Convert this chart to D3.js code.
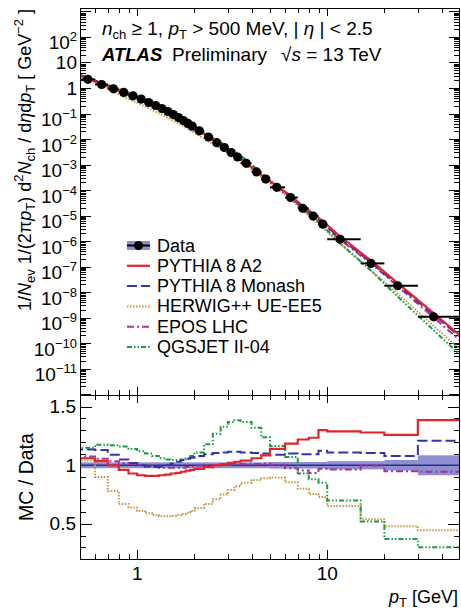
<!DOCTYPE html>
<html>
<head>
<meta charset="utf-8">
<script src="https://cdn.jsdelivr.net/npm/d3@7"></script>
<style>
  body { margin: 0; background: #fff; }
  svg { font-family: 'Liberation Sans', Arial, Helvetica, sans-serif; }
  .tick line { shape-rendering: crispEdges; }
</style>
</head>
<body>
<svg id="chart" width="461" height="613"></svg>
<script>
// pT binning [GeV] and measured spectrum
const ptEdges = [0.5, 0.6, 0.7, 0.8, 0.9, 1.0, 1.1, 1.2, 1.3, 1.4, 1.5, 1.6, 1.7, 1.8, 1.9, 2.0,
  2.25, 2.5, 2.75, 3.0, 3.25, 3.5, 4.0, 4.5, 5, 6, 7, 8, 9, 10, 15, 20, 30, 50];
const ptMean = [0.55, 0.65, 0.75, 0.85, 0.95, 1.05, 1.15, 1.25, 1.35, 1.45, 1.55, 1.65, 1.75, 1.85, 1.95,
  2.125, 2.375, 2.625, 2.875, 3.125, 3.375, 3.75, 4.25, 4.75, 5.43, 6.42, 7.44, 8.44, 9.47, 11.7, 17.0, 23.5, 36.3];
const dataYield = [2.19, 1.37, 0.93, 0.672, 0.494, 0.367, 0.270, 0.206, 0.156, 0.119, 0.0906, 0.0690, 0.0531,
  0.0409, 0.0318, 0.0210, 0.01198, 0.00716, 0.00464, 0.00293, 0.00197, 0.00111, 5.13e-4, 2.70e-4,
  1.28e-4, 5.08e-5, 1.92e-5, 9.55e-6, 4.64e-6, 1.17e-6, 1.33e-7, 1.77e-8, 1.07e-9];
const dataRelErr = [0.025, 0.025, 0.025, 0.025, 0.025, 0.025, 0.025, 0.025, 0.025, 0.025, 0.025, 0.025,
  0.025, 0.025, 0.025, 0.025, 0.025, 0.025, 0.025, 0.025, 0.025, 0.025, 0.025, 0.025,
  0.028, 0.028, 0.028, 0.028, 0.028, 0.035, 0.035, 0.045, 0.085];

// MC / Data ratios per bin
const ratioA2 = [1.06, 1.035, 1.0, 0.96, 0.93, 0.915, 0.91, 0.91, 0.915, 0.92, 0.93, 0.935, 0.945, 0.955, 0.96,
  0.97, 0.985, 1.0, 1.01, 1.02, 1.03, 1.04, 1.06, 1.085, 1.14, 1.185, 1.22, 1.235, 1.3, 1.29, 1.28, 1.26, 1.385];
const ratioMonash = [1.135, 1.13, 1.09, 1.05, 1.02, 1.0, 0.99, 0.985, 0.99, 1.0, 1.015, 1.03, 1.045, 1.055, 1.065,
  1.08, 1.095, 1.105, 1.11, 1.115, 1.115, 1.11, 1.105, 1.1, 1.09, 1.1, 1.095, 1.095, 1.125, 1.11, 1.105, 1.08, 1.21];
const ratioHerwig = [1.04, 0.9, 0.78, 0.67, 0.64, 0.61, 0.59, 0.575, 0.565, 0.565, 0.57, 0.575, 0.585, 0.595, 0.61,
  0.635, 0.67, 0.71, 0.75, 0.79, 0.82, 0.85, 0.875, 0.89, 0.895, 0.855, 0.8, 0.755, 0.73, 0.652, 0.54, 0.48, 0.445];
const ratioEpos = [1.075, 1.055, 1.035, 1.02, 1.01, 1.0, 0.99, 0.985, 0.98, 0.98, 0.98, 0.98, 0.98, 0.985, 0.99,
  0.995, 1.0, 1.0, 1.005, 1.005, 1.01, 1.01, 1.01, 1.015, 1.005, 0.975, 0.955, 0.935, 0.97, 0.965, 0.995, 0.95, 0.945];
const ratioQgsjet = [1.15, 1.175, 1.17, 1.16, 1.14, 1.12, 1.1, 1.08, 1.06, 1.05, 1.045, 1.045, 1.05, 1.06, 1.08,
  1.11, 1.18, 1.27, 1.33, 1.37, 1.385, 1.37, 1.32, 1.24, 1.165, 1.07, 0.93, 0.88, 0.85, 0.7, 0.52, 0.37, 0.30];

const models = [
  { name: 'PYTHIA 8 A2', ratio: ratioA2, color: '#e2242b', dash: null, width: 2.2 },
  { name: 'PYTHIA 8 Monash', ratio: ratioMonash, color: '#3436a8', dash: '10,4', width: 2 },
  { name: 'HERWIG++ UE-EE5', ratio: ratioHerwig, color: '#c8964a', dash: '1.5,1.5', width: 2 },
  { name: 'EPOS LHC', ratio: ratioEpos, color: '#a2329e', dash: '7,3,2,3', width: 2 },
  { name: 'QGSJET II-04', ratio: ratioQgsjet, color: '#1c9a3c', dash: '5,2,1.5,2,1.5,2', width: 2 }
];
const drawOrder = [2, 4, 3, 1, 0];

const svg = d3.select('#chart');
const xLeft = 80, xRight = 460, yTop = 8, yMid = 395, yBottom = 559;

const x = d3.scaleLog().domain([0.5, 50]).range([xLeft, xRight]);
const y = d3.scaleLog().domain([9.2e-13, 1.37e3]).range([yMid, yTop]);
const yr = d3.scaleLinear().domain([0.2, 1.6]).range([yBottom, yMid]);

// clip regions
const defs = svg.append('defs');
defs.append('clipPath').attr('id', 'clipMain').append('rect')
  .attr('x', xLeft).attr('y', yTop).attr('width', xRight - xLeft).attr('height', yMid - yTop);
defs.append('clipPath').attr('id', 'clipRatio').append('rect')
  .attr('x', xLeft).attr('y', yMid).attr('width', xRight - xLeft).attr('height', yBottom - yMid);

// rich text with sub/superscripts
function rich(sel, parts, size) {
  let shift = 0;
  parts.forEach(p => {
    const s = p.sub ? size * 0.22 : p.sup ? -size * 0.42 : 0;
    const ts = sel.append('tspan').text(p.t).attr('dy', s - shift);
    shift = s;
    if (p.sub || p.sup) ts.style('font-size', Math.round(size * 0.7) + 'px');
    if (p.i) ts.style('font-style', 'italic');
    if (p.b) ts.style('font-weight', 'bold');
  });
  return sel;
}

// ---------- tick values
const xMajor = [1, 10];
const xMinor = [0.6, 0.7, 0.8, 0.9, 2, 3, 4, 5, 6, 7, 8, 9, 20, 30, 40];
const yMajor = d3.range(-12, 4).map(e => Math.pow(10, e)).filter(v => v >= 9.2e-13 && v <= 1.37e3);
const yMinor = [];
d3.range(-13, 4).forEach(e => d3.range(2, 10).forEach(m => {
  const v = m * Math.pow(10, e);
  if (v > 9.2e-13 && v < 1.37e3) yMinor.push(v);
}));
const rMajor = [0.5, 1, 1.5];
const rMinor = d3.range(2, 17).map(v => v / 10).filter(v => [5, 10, 15].indexOf(Math.round(v * 10)) < 0);

function ticks(axis, tx, ty, vals, size) {
  svg.append('g')
    .attr('transform', `translate(${tx},${ty})`)
    .call(axis.tickValues(vals).tickSize(size).tickFormat(''))
    .call(g => g.select('.domain').remove());
}

// main panel ticks
ticks(d3.axisLeft(y), xLeft, 0, yMajor, -11);
ticks(d3.axisLeft(y), xLeft, 0, yMinor, -6);
ticks(d3.axisRight(y), xRight, 0, yMajor, -11);
ticks(d3.axisRight(y), xRight, 0, yMinor, -6);
ticks(d3.axisTop(x), 0, yTop, xMajor, -8);
ticks(d3.axisTop(x), 0, yTop, xMinor, -5);
ticks(d3.axisBottom(x), 0, yMid, xMajor, -8);
ticks(d3.axisBottom(x), 0, yMid, xMinor, -5);

// ratio panel ticks
ticks(d3.axisLeft(yr), xLeft, 0, rMajor, -12);
ticks(d3.axisLeft(yr), xLeft, 0, rMinor, -6);
ticks(d3.axisRight(yr), xRight, 0, rMajor, -12);
ticks(d3.axisRight(yr), xRight, 0, rMinor, -6);
ticks(d3.axisTop(x), 0, yMid, xMajor, -8);
ticks(d3.axisTop(x), 0, yMid, xMinor, -5);
ticks(d3.axisBottom(x), 0, yBottom, xMajor, -9);
ticks(d3.axisBottom(x), 0, yBottom, xMinor, -5.5);

// ---------- main panel
const main = svg.append('g').attr('clip-path', 'url(#clipMain)');

// MC predictions = data x ratio, drawn as lines (extended to the frame edges)
function extendLog(a, b, xv) {
  const s = Math.log(b[1] / a[1]) / Math.log(b[0] / a[0]);
  return [xv, a[1] * Math.pow(xv / a[0], s)];
}
const line = d3.line().x(d => x(d[0])).y(d => y(d[1]));
drawOrder.forEach(k => {
  const m = models[k];
  const pts = ptMean.map((p, i) => [p, dataYield[i] * m.ratio[i]]);
  const n = pts.length;
  const full = [extendLog(pts[0], pts[1], 0.5), ...pts, extendLog(pts[n - 2], pts[n - 1], 50)];
  main.append('path')
    .attr('d', line(full))
    .attr('fill', 'none')
    .attr('stroke', m.color)
    .attr('stroke-width', m.width)
    .attr('stroke-dasharray', m.dash);
});

// data points with bin-width error bars
const pts = main.append('g');
dataYield.forEach((v, i) => {
  pts.append('line')
    .attr('x1', x(ptEdges[i])).attr('x2', x(ptEdges[i + 1]))
    .attr('y1', y(v)).attr('y2', y(v))
    .attr('stroke', '#000').attr('stroke-width', 2);
  pts.append('line')
    .attr('x1', x(ptMean[i])).attr('x2', x(ptMean[i]))
    .attr('y1', y(v * (1 - dataRelErr[i]))).attr('y2', y(v * (1 + dataRelErr[i])))
    .attr('stroke', '#000').attr('stroke-width', 2);
});
pts.selectAll('circle')
  .data(dataYield)
  .join('circle')
  .attr('cx', (d, i) => x(ptMean[i]))
  .attr('cy', d => y(d))
  .attr('r', 4.6)
  .attr('fill', '#000');

// ---------- ratio panel
const ratio = svg.append('g').attr('clip-path', 'url(#clipRatio)');

ratio.selectAll('rect.band')
  .data(dataRelErr)
  .join('rect')
  .attr('class', 'band')
  .attr('x', (d, i) => x(ptEdges[i]))
  .attr('width', (d, i) => x(ptEdges[i + 1]) - x(ptEdges[i]) + 0.3)
  .attr('y', d => yr(1 + d))
  .attr('height', d => yr(1 - d) - yr(1 + d))
  .attr('fill', '#8e8ed0');

ratio.append('line')
  .attr('x1', xLeft).attr('x2', xRight)
  .attr('y1', yr(1)).attr('y2', yr(1))
  .attr('stroke', '#2c2c8c').attr('stroke-width', 1.5);

const stepLine = d3.line().curve(d3.curveStepAfter).x(d => x(d[0])).y(d => yr(d[1]));
drawOrder.forEach(k => {
  const m = models[k];
  const steps = [[0.5, 0], ...m.ratio.map((r, i) => [ptEdges[i], r]), [50, m.ratio[m.ratio.length - 1]]];
  ratio.append('path')
    .attr('d', stepLine(steps))
    .attr('fill', 'none')
    .attr('stroke', m.color)
    .attr('stroke-width', m.width)
    .attr('stroke-dasharray', m.dash);
});

// frames
[[yTop, yMid], [yMid, yBottom]].forEach(([a, b]) => {
  svg.append('rect')
    .attr('x', xLeft + 0.5).attr('y', a + 0.5)
    .attr('width', xRight - xLeft - 1).attr('height', b - a)
    .attr('fill', 'none').attr('stroke', '#000').attr('stroke-width', 1);
});

// ---------- tick labels
yMajor.forEach(v => {
  const e = Math.round(Math.log10(v));
  if (e < -11 || e > 2) return;
  const ty = y(v);
  const t = svg.append('text').attr('x', 77).attr('text-anchor', 'end').style('font-size', '19px');
  if (e === 0 || e === 1) {
    t.attr('y', ty + 6.5).text(e === 0 ? '1' : '10');
  } else {
    t.attr('y', ty + 12.5);
    t.append('tspan').text('10');
    t.append('tspan').attr('dy', -8).style('font-size', '13px').text(e < 0 ? '\u2212' + (-e) : String(e));
  }
});
rMajor.forEach(v => {
  svg.append('text')
    .attr('x', 76).attr('y', yr(v) + 6.5)
    .attr('text-anchor', 'end').style('font-size', '19px')
    .text(v === 1 ? '1' : String(v));
});
xMajor.forEach(v => {
  svg.append('text')
    .attr('x', x(v)).attr('y', 580)
    .attr('text-anchor', 'middle').style('font-size', '19px')
    .text(String(v));
});

// ---------- axis titles
rich(svg.append('text')
  .attr('transform', 'translate(31,9) rotate(-90)')
  .attr('text-anchor', 'end').style('font-size', '18px'), [
  { t: '1/' }, { t: 'N', i: true }, { t: 'ev', sub: true }, { t: ' 1/(2\u03c0' }, { t: 'p', i: true },
  { t: 'T', sub: true }, { t: ') d' }, { t: '2', sup: true }, { t: 'N', i: true }, { t: 'ch', sub: true },
  { t: ' / d' }, { t: '\u03b7', i: true }, { t: 'd' }, { t: 'p', i: true }, { t: 'T', sub: true },
  { t: ' [ GeV' }, { t: '\u22122', sup: true }, { t: ' ]' }
], 18);

svg.append('text')
  .attr('transform', `translate(33,${(yMid + yBottom) / 2}) rotate(-90)`)
  .attr('text-anchor', 'middle').style('font-size', '19.5px')
  .text('MC / Data');

rich(svg.append('text')
  .attr('x', 458).attr('y', 603)
  .attr('text-anchor', 'end').style('font-size', '18px'), [
  { t: 'p', i: true }, { t: 'T', sub: true }, { t: ' [GeV]' }
], 18);

// ---------- labels
rich(svg.append('text').attr('x', 102).attr('y', 35).style('font-size', '19px'), [
  { t: 'n', i: true }, { t: 'ch', sub: true }, { t: ' \u2265 1, ' }, { t: 'p', i: true }, { t: 'T', sub: true },
  { t: ' > 500 MeV, | ' }, { t: '\u03b7', i: true }, { t: ' | < 2.5' }
], 19);

svg.append('text').attr('x', 102).attr('y', 61)
  .style('font-size', '18.5px').style('font-weight', 'bold').style('font-style', 'italic')
  .text('ATLAS');
svg.append('text').attr('x', 172).attr('y', 61)
  .style('font-size', '19px')
  .text('Preliminary');
rich(svg.append('text').attr('x', 281).attr('y', 61).style('font-size', '19px'), [
  { t: '\u221a' }, { t: 's', i: true }, { t: ' = 13 TeV' }
], 19);

// ---------- legend
const legend = svg.append('g');
const legendY = [251.5, 271.8, 292.1, 312.4, 332.7, 353];
const symX1 = 127, symX2 = 150;

legend.append('rect')
  .attr('x', symX1).attr('y', legendY[0] - 10.5)
  .attr('width', symX2 - symX1).attr('height', 9)
  .attr('fill', '#8e8ed0');
legend.append('line')
  .attr('x1', symX1).attr('x2', symX2)
  .attr('y1', legendY[0] - 6).attr('y2', legendY[0] - 6)
  .attr('stroke', '#000').attr('stroke-width', 2);
legend.append('circle')
  .attr('cx', (symX1 + symX2) / 2).attr('cy', legendY[0] - 6)
  .attr('r', 4.5).attr('fill', '#000');
legend.append('text')
  .attr('x', 157).attr('y', legendY[0])
  .style('font-size', '18px')
  .text('Data');

models.forEach((m, i) => {
  const ly = legendY[i + 1];
  legend.append('line')
    .attr('x1', symX1).attr('x2', symX2)
    .attr('y1', ly - 6).attr('y2', ly - 6)
    .attr('stroke', m.color)
    .attr('stroke-width', m.width)
    .attr('stroke-dasharray', m.dash);
  legend.append('text')
    .attr('x', 157).attr('y', ly)
    .style('font-size', '18px')
    .text(m.name);
});
</script>
</body>
</html>
